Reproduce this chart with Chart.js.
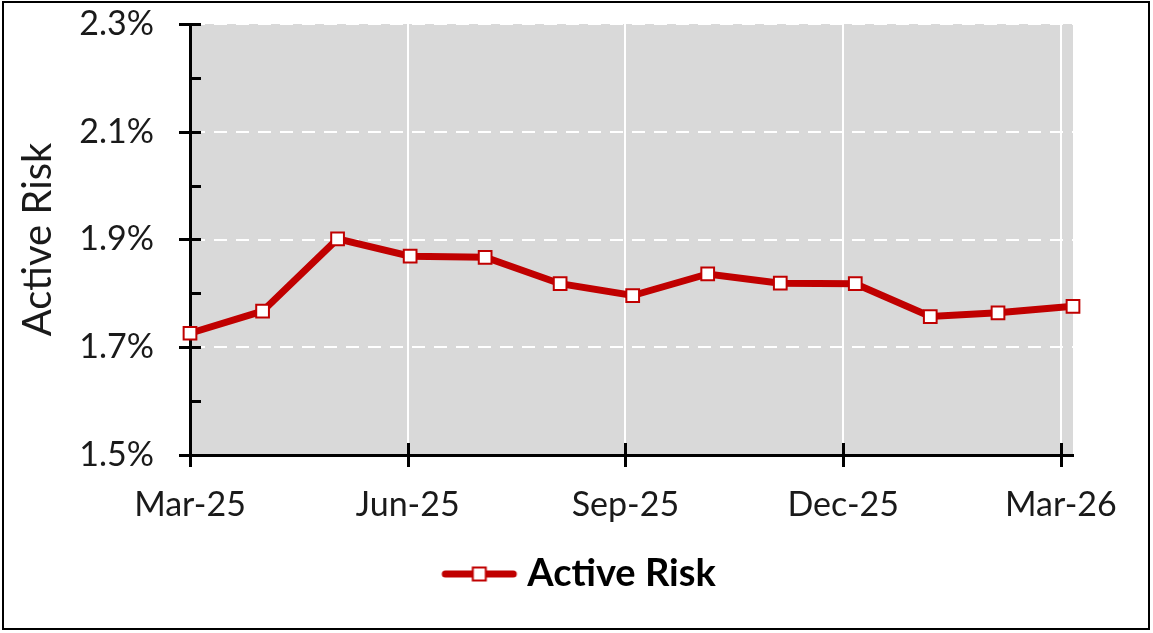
<!DOCTYPE html>
<html>
<head>
<meta charset="utf-8">
<script src="https://cdn.jsdelivr.net/npm/chart.js@4"></script>
<style>
  html, body { margin: 0; padding: 0; background: #fff; }
  #wrap { width: 1153px; height: 633px; }
</style>
</head>
<body>
<div id="wrap"><canvas id="risk-chart" width="1153" height="633"></canvas></div>
<script>
// month-end dates and the active risk (in %)
const dates = ['2025-03-31', '2025-04-30', '2025-05-31', '2025-06-30', '2025-07-31', '2025-08-31',
  '2025-09-30', '2025-10-31', '2025-11-30', '2025-12-31', '2026-01-31', '2026-02-28', '2026-03-31'];
const activeRisk = [1.726, 1.767, 1.901, 1.869, 1.867, 1.818, 1.796, 1.836, 1.819, 1.818, 1.757, 1.764, 1.776];
const seriesName = 'Active Risk';
const yMin = 1.5, yMax = 2.3, yStep = 0.2, yMinorStep = 0.1;
// date axis: a major tick every 90 days from the first date
const xTickDays = [0, 90, 180, 270, 360];
const monthNames = ['Jan', 'Feb', 'Mar', 'Apr', 'May', 'Jun', 'Jul', 'Aug', 'Sep', 'Oct', 'Nov', 'Dec'];

const DAY = 86400000;
const baseTime = Date.parse(dates[0]);
const dayOf = d => Math.round((Date.parse(d) - baseTime) / DAY);
const points = dates.map((d, i) => ({ x: dayOf(d), y: activeRisk[i] }));
const xMax = dayOf(dates[dates.length - 1]);

const RED = '#c00000';
const FONT = 'Lato, "Open Sans", sans-serif';
const TEXT = '#1a1a1a';

// legend icon: line with the square marker on it
const legendIcon = document.createElement('canvas');
legendIcon.width = 78;
legendIcon.height = 20;
(function() {
  const c = legendIcon.getContext('2d');
  c.strokeStyle = RED;
  c.lineWidth = 7;
  c.lineCap = 'round';
  c.beginPath();
  c.moveTo(5, 10);
  c.lineTo(73, 10);
  c.stroke();
  c.fillStyle = '#fff';
  c.fillRect(32.5, 3.5, 13, 13);
  c.lineWidth = 2;
  c.strokeRect(32.5, 3.5, 13, 13);
})();

const chartDecor = {
  id: 'chartDecor',
  beforeDraw(chart) {
    const a = chart.chartArea;
    const ctx = chart.ctx;
    ctx.save();
    ctx.fillStyle = '#d9d9d9';
    ctx.fillRect(a.left, a.top, a.right - a.left, a.bottom - a.top);
    ctx.restore();
  },
  beforeDatasetsDraw(chart) {
    const a = chart.chartArea;
    const ctx = chart.ctx;
    const ys = chart.scales.y;
    const xs = chart.scales.x;
    ctx.save();
    ctx.strokeStyle = '#000';
    ctx.lineWidth = 3;
    ctx.beginPath();
    // y: major ticks cross the axis, minor ticks sit inside
    for (let v = yMin; v <= yMax + 1e-9; v += yMinorStep) {
      const py = Math.round(ys.getPixelForValue(v)) + 0.5;
      const k = (v - yMin) / yStep;
      const major = Math.abs(k - Math.round(k)) < 1e-6;
      ctx.moveTo(a.left - (major ? 11 : 0), py);
      ctx.lineTo(a.left + 11, py);
    }
    // x: ticks cross the axis
    xs.ticks.forEach(t => {
      const px = Math.round(xs.getPixelForValue(t.value)) + 0.5;
      ctx.moveTo(px, a.bottom - 12);
      ctx.lineTo(px, a.bottom + 12);
    });
    ctx.stroke();
    ctx.restore();
  },
  afterDraw(chart) {
    const ctx = chart.ctx;
    ctx.save();
    ctx.strokeStyle = '#000';
    ctx.lineWidth = 2;
    ctx.strokeRect(3, 2, chart.width - 7, chart.height - 6);
    ctx.restore();
  }
};

const ctx = document.getElementById('risk-chart').getContext('2d');
window.riskChart = new Chart(ctx, {
  type: 'line',
  data: {
    datasets: [{
      label: seriesName,
      data: points,
      borderColor: RED,
      borderWidth: 7,
      pointStyle: 'rect',
      pointRadius: 9,
      pointBorderWidth: 2,
      pointBorderColor: RED,
      pointBackgroundColor: '#fff',
      fill: false,
      tension: 0,
      clip: false
    }]
  },
  options: {
    responsive: false,
    animation: false,
    layout: { padding: { left: 13, top: 24, right: 0, bottom: 30 } },
    plugins: {
      tooltip: { enabled: false },
      legend: {
        position: 'bottom',
        labels: {
          usePointStyle: true,
          pointStyle: legendIcon,
          pointStyleWidth: 58,
          color: '#000',
          font: { family: FONT, size: 38, weight: 'bold' },
          padding: 10
        }
      }
    },
    scales: {
      x: {
        type: 'linear',
        min: 0,
        max: xMax,
        afterFit(scale) { scale.height = 90; },
        afterBuildTicks(scale) { scale.ticks = xTickDays.map(v => ({ value: v })); },
        ticks: {
          autoSkip: false,
          maxRotation: 0,
          padding: 30,
          color: TEXT,
          font: { family: FONT, size: 34 },
          callback(v) {
            const d = new Date(baseTime + v * DAY);
            return monthNames[d.getUTCMonth()] + '-' + String(d.getUTCFullYear() % 100).padStart(2, '0');
          }
        },
        grid: {
          drawTicks: false,
          color: c => (c.tick && c.tick.value === 0 ? 'rgba(0,0,0,0)' : '#fff'),
          lineWidth: 2
        },
        border: { color: '#000', width: 3 }
      },
      y: {
        min: yMin,
        max: yMax,
        afterFit(scale) { scale.width = 177; },
        ticks: {
          stepSize: yStep,
          padding: 0,
          color: TEXT,
          font: { family: FONT, size: 34 },
          callback: v => v.toFixed(1) + '%'
        },
        grid: {
          drawTicks: true,
          tickLength: 36,
          tickColor: 'rgba(0,0,0,0)',
          color: '#fff',
          lineWidth: 2
        },
        border: { color: '#000', width: 3, dash: [13, 9] },
        title: {
          display: true,
          text: seriesName,
          color: TEXT,
          font: { family: FONT, size: 40 },
          padding: { top: 1, bottom: 0 }
        }
      },
      // empty right-hand axis that only keeps the white margin beside the plot
      yRight: {
        position: 'right',
        display: true,
        afterFit(scale) { scale.width = 80; },
        ticks: { display: false },
        grid: { display: false, drawTicks: false },
        border: { display: false },
        title: { display: false }
      }
    }
  },
  plugins: [chartDecor]
});
</script>
</body>
</html>
